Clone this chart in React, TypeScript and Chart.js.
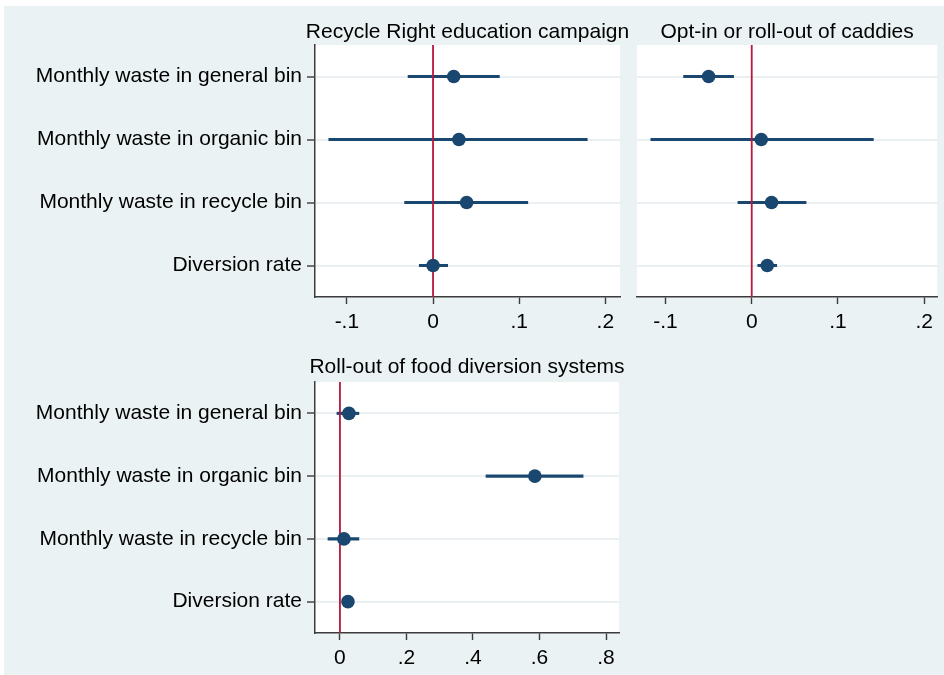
import React, { useEffect, useRef } from "react";
import { Chart, registerables } from "chart.js";

Chart.register(...registerables);

const categories = [
  "Monthly waste in general bin",
  "Monthly waste in organic bin",
  "Monthly waste in recycle bin",
  "Diversion rate",
];

const titles = [
  "Recycle Right education campaign",
  "Opt-in or roll-out of caddies",
  "Roll-out of food diversion systems",
];

const p1Est = [0.024, 0.03, 0.039, 0.0];
const p1Lo = [-0.029, -0.121, -0.033, -0.016];
const p1Hi = [0.077, 0.179, 0.11, 0.017];

const p2Est = [-0.05, 0.011, 0.023, 0.018];
const p2Lo = [-0.079, -0.117, -0.016, 0.007];
const p2Hi = [-0.021, 0.141, 0.063, 0.029];

const p3Est = [0.027, 0.586, 0.012, 0.024];
const p3Lo = [-0.009, 0.439, -0.036, 0.014];
const p3Hi = [0.057, 0.731, 0.057, 0.034];

const xTicksSmall = [-0.1, 0, 0.1, 0.2];
const xTickLabelsSmall = ["-.1", "0", ".1", ".2"];
const xTicksLarge = [0, 0.2, 0.4, 0.6, 0.8];
const xTickLabelsLarge = ["0", ".2", ".4", ".6", ".8"];

const FONT = "'Liberation Sans', Arial, sans-serif";
const NAVY = "#1A476F";
const RED = "#B8173D";
const GRID = "#EAF0F2";
const AXIS = "#3C3C3C";

const whiteArea = {
  id: "whiteArea",
  beforeDraw(chart: any) {
    const { ctx, chartArea } = chart;
    ctx.save();
    ctx.fillStyle = "#FFFFFF";
    ctx.fillRect(chartArea.left, chartArea.top, chartArea.right - chartArea.left, chartArea.bottom - chartArea.top);
    ctx.restore();
  },
};

const panelTitle = {
  id: "panelTitle",
  afterDraw(chart: any, _args: any, opts: any) {
    if (!opts || !opts.text) return;
    const { ctx, chartArea } = chart;
    ctx.save();
    ctx.fillStyle = "#000";
    ctx.font = `21px ${FONT}`;
    ctx.textAlign = "center";
    ctx.textBaseline = "alphabetic";
    ctx.fillText(opts.text, (chartArea.left + chartArea.right) / 2, opts.baseline);
    ctx.restore();
  },
};

type PanelCfg = {
  title: string;
  est: number[];
  lo: number[];
  hi: number[];
  xmin: number;
  xmax: number;
  xticks: number[];
  xlabels: string[];
  showY: boolean;
  yWidth: number;
  xHeight: number;
  padRight: number;
  padTop: number;
  titleBaseline: number;
};

function makeConfig(p: PanelCfg): any {
  return {
    type: "bar",
    data: {
      datasets: [
        {
          type: "line",
          data: p.est.map((v, i) => ({ x: v, y: i + 1 })),
          showLine: false,
          pointRadius: 6.8,
          pointHoverRadius: 6.8,
          pointBackgroundColor: NAVY,
          pointBorderWidth: 0,
          borderColor: NAVY,
          order: 0,
        },
        {
          type: "line",
          data: [
            { x: 0, y: 0.5 },
            { x: 0, y: 4.5 },
          ],
          borderColor: RED,
          borderWidth: 1.8,
          pointRadius: 0,
          order: 1,
        },
        {
          type: "bar",
          data: p.lo.map((v, i) => ({ x: [v, p.hi[i]], y: i + 1 })),
          backgroundColor: NAVY,
          borderWidth: 0,
          barThickness: 2.4,
          order: 2,
        },
      ],
    },
    options: {
      indexAxis: "y",
      animation: false,
      responsive: false,
      layout: { padding: { left: 0, right: p.padRight, top: p.padTop, bottom: 0 } },
      plugins: {
        legend: { display: false },
        tooltip: { enabled: false },
        title: { display: false },
        panelTitle: { text: p.title, baseline: p.titleBaseline },
      },
      scales: {
        x: {
          type: "linear",
          min: p.xmin,
          max: p.xmax,
          offset: false,
          afterBuildTicks: (s: any) => {
            s.ticks = p.xticks.map((v) => ({ value: v }));
          },
          afterFit: (s: any) => {
            s.height = p.xHeight;
          },
          ticks: {
            autoSkip: false,
            maxRotation: 0,
            color: "#000",
            padding: 6,
            font: { family: FONT, size: 21 },
            callback: (v: number) => {
              const idx = p.xticks.findIndex((t) => Math.abs(t - v) < 1e-9);
              return idx >= 0 ? p.xlabels[idx] : "";
            },
          },
          grid: {
            drawOnChartArea: false,
            offset: false,
            tickLength: 7,
            tickColor: AXIS,
            tickWidth: 1.4,
          },
          border: { display: true, color: AXIS, width: 1.5 },
        },
        y: {
          type: "linear",
          reverse: true,
          min: 0.5,
          max: 4.5,
          offset: false,
          afterBuildTicks: (s: any) => {
            s.ticks = categories.map((_, i) => ({ value: i + 1 }));
          },
          afterFit: (s: any) => {
            s.width = p.yWidth;
          },
          ticks: {
            display: p.showY,
            autoSkip: false,
            color: "#000",
            padding: 5,
            font: { family: FONT, size: 21 },
            callback: (v: number) => categories[Math.round(v) - 1] ?? "",
          },
          grid: {
            color: GRID,
            lineWidth: 2,
            offset: false,
            drawTicks: p.showY,
            tickLength: 8,
            tickColor: AXIS,
            tickWidth: 1.4,
          },
          border: { display: p.showY, color: AXIS, width: 1.5 },
        },
      },
    },
    plugins: [whiteArea, panelTitle],
  };
}

function Panel(props: { cfg: PanelCfg; left: number; top: number; width: number; height: number }) {
  const ref = useRef<HTMLCanvasElement | null>(null);
  useEffect(() => {
    if (!ref.current) return;
    const chart = new Chart(ref.current, makeConfig(props.cfg));
    return () => chart.destroy();
  }, []);
  return (
    <canvas
      ref={ref}
      width={props.width}
      height={props.height}
      style={{ position: "absolute", left: props.left, top: props.top, width: props.width, height: props.height }}
    />
  );
}

export default function App() {
  const panel1: PanelCfg = {
    title: titles[0],
    est: p1Est,
    lo: p1Lo,
    hi: p1Hi,
    xmin: -0.137,
    xmax: 0.217,
    xticks: xTicksSmall,
    xlabels: xTickLabelsSmall,
    showY: true,
    yWidth: 315,
    xHeight: 38,
    padRight: 10,
    padTop: 45,
    titleBaseline: 38,
  };
  const panel2: PanelCfg = {
    title: titles[1],
    est: p2Est,
    lo: p2Lo,
    hi: p2Hi,
    xmin: -0.133,
    xmax: 0.215,
    xticks: xTicksSmall,
    xlabels: xTickLabelsSmall,
    showY: false,
    yWidth: 7,
    xHeight: 38,
    padRight: 3,
    padTop: 45,
    titleBaseline: 38,
  };
  const panel3: PanelCfg = {
    title: titles[2],
    est: p3Est,
    lo: p3Lo,
    hi: p3Hi,
    xmin: -0.075,
    xmax: 0.839,
    xticks: xTicksLarge,
    xlabels: xTickLabelsLarge,
    showY: true,
    yWidth: 315,
    xHeight: 42,
    padRight: 11,
    padTop: 47,
    titleBaseline: 38,
  };
  return (
    <div style={{ position: "absolute", left: 0, top: 0, width: 944, height: 675, background: "#FFFFFF", overflow: "hidden" }}>
      <div style={{ position: "absolute", left: 4, top: 6, right: 0, bottom: 0, background: "#EAF2F3" }} />
      <Panel cfg={panel1} left={0} top={0} width={630} height={335} />
      <Panel cfg={panel2} left={630} top={0} width={314} height={335} />
      <Panel cfg={panel3} left={0} top={335} width={630} height={340} />
    </div>
  );
}
